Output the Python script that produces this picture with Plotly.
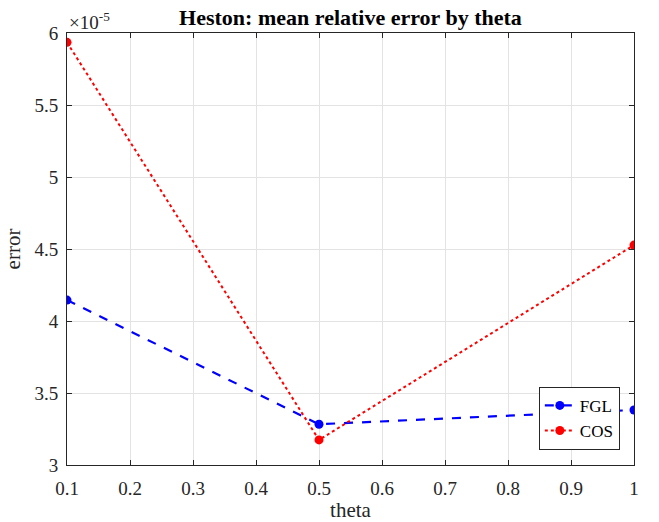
import plotly.graph_objects as go

theta = [0.1, 0.5, 1.0]
fgl_err = [4.145e-5, 3.283e-5, 3.382e-5]
cos_err = [5.935e-5, 3.174e-5, 4.527e-5]
x_ticks = [0.1, 0.2, 0.3, 0.4, 0.5, 0.6, 0.7, 0.8, 0.9, 1.0]
x_ticktext = ["0.1", "0.2", "0.3", "0.4", "0.5", "0.6", "0.7", "0.8", "0.9", "1"]
y_ticks = [3e-5, 3.5e-5, 4e-5, 4.5e-5, 5e-5, 5.5e-5, 6e-5]
y_ticktext = ["3", "3.5", "4", "4.5", "5", "5.5", "6"]

FONT = "Liberation Serif"
AX = "#262626"

fig = go.Figure()
fig.add_trace(go.Scatter(x=theta, y=fgl_err, name="FGL", mode="lines+markers",
                         line=dict(color="#0000ff", width=2.2, dash="dash"),
                         marker=dict(color="#0000ff", size=9)))
fig.add_trace(go.Scatter(x=theta, y=cos_err, name="COS", mode="lines+markers",
                         line=dict(color="#ff0000", width=2, dash="dot"),
                         marker=dict(color="#ff0000", size=9)))

fig.update_layout(
    width=659, height=522,
    margin=dict(l=67, r=25, t=33, b=57),
    paper_bgcolor="white", plot_bgcolor="white",
    font=dict(family=FONT, size=19, color=AX),
    title=dict(text="<b>Heston: mean relative error by theta</b>", x=0.5, xanchor="center",
               y=1 - 17 / 522, yanchor="middle", xref="paper",
               font=dict(family=FONT, size=22, color="black")),
    showlegend=True,
    legend=dict(x=0.975, y=0.035, xanchor="right", yanchor="bottom",
                bgcolor="white", bordercolor=AX, borderwidth=1,
                font=dict(family=FONT, size=17, color="black"),
                tracegroupgap=0, itemwidth=30),
)
fig.update_xaxes(range=[0.1, 1.0], tickvals=x_ticks, ticktext=x_ticktext,
                 showgrid=True, gridcolor="#e3e3e3", gridwidth=1,
                 showline=True, linecolor=AX, linewidth=1, mirror="ticks",
                 ticks="inside", ticklen=5, tickcolor=AX, zeroline=False,
                 ticklabelstandoff=6, automargin=False,
                 title=dict(text="theta", font=dict(family=FONT, size=21), standoff=6),
                 tickfont=dict(family=FONT, size=19))
fig.update_yaxes(range=[3e-5, 6e-5], tickvals=y_ticks, ticktext=y_ticktext,
                 showgrid=True, gridcolor="#e3e3e3", gridwidth=1,
                 showline=True, linecolor=AX, linewidth=1, mirror="ticks",
                 ticks="inside", ticklen=5, tickcolor=AX, zeroline=False,
                 ticklabelstandoff=4, automargin=False,
                 title=dict(text="error", font=dict(family=FONT, size=21), standoff=8),
                 tickfont=dict(family=FONT, size=19))
fig.add_annotation(xref="paper", yref="paper", x=0, y=1, xanchor="left", yanchor="bottom",
                   xshift=0, yshift=-2, showarrow=False,
                   text="×10<sup>-5</sup>", font=dict(family=FONT, size=19, color=AX))

fig.write_html("out.html")
